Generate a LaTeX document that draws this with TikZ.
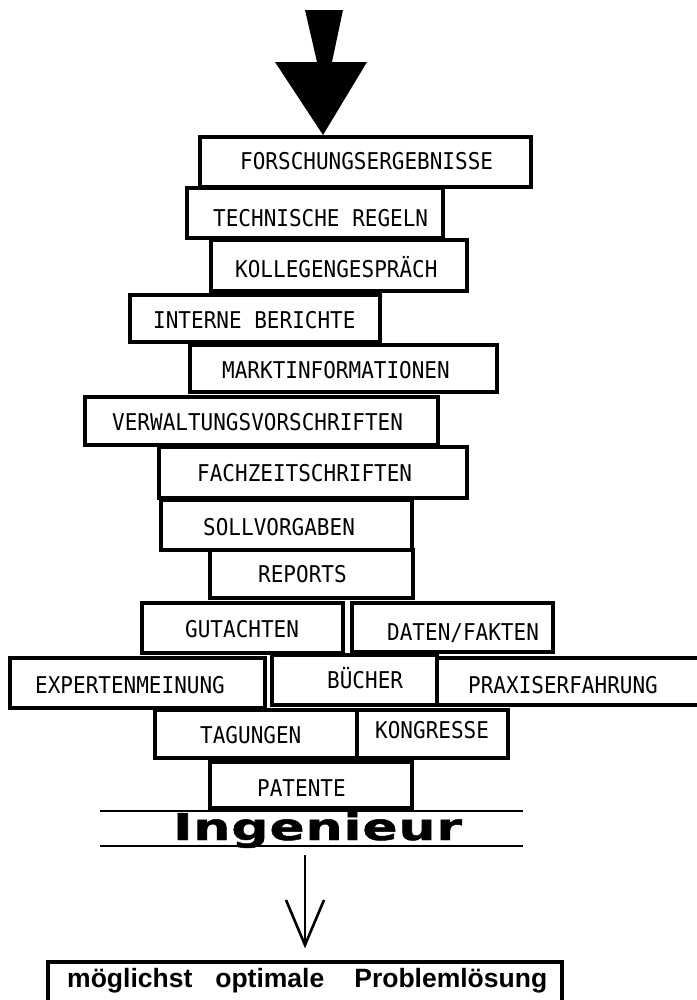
\documentclass[tikz,border=0pt]{standalone}
\usepackage{fontspec}
\newfontfamily\boxfont{DejaVu Sans Mono}
\newfontfamily\ingfont[LetterSpace=2,BoldFeatures={FakeBold=1.2}]{DejaVu Sans}
\newfontfamily\botfont{Liberation Sans}
\begin{document}
\begin{tikzpicture}[x=1bp,y=-1bp,
  brick/.style={draw=black,line width=3.2bp},
  lbl/.style={anchor=base west,inner sep=0pt,font=\boxfont\fontsize{21bp}{25bp}\selectfont},
  rule/.style={line width=2.8bp}]
\useasboundingbox (0,0) rectangle (697,1000);
\fill[white] (0,0) rectangle (697,1000);
\begin{scope}
\clip (0,0) rectangle (697,1000);
% top arrow
\fill[black] (305,10) -- (343,10) -- (332,62) -- (367,62) -- (323,135) -- (275,62) -- (317,62) -- cycle;
% bricks
\draw[brick] (200,137) rectangle (531,187);
\node[lbl] (t1) at (240,169) {\scalebox{1}[1.1]{FORSCHUNGSERGEBNISSE}};
\draw[brick] (187,188) rectangle (443,238);
\node[lbl] (t2) at (213,226) {\scalebox{1}[1.1]{TECHNISCHE REGELN}};
\draw[brick] (211,240) rectangle (467,291);
\node[lbl] (t3) at (235,277) {\scalebox{1}[1.1]{KOLLEGENGESPRÄCH}};
\draw[brick] (130,295) rectangle (380,342);
\node[lbl] (t4) at (153,328) {\scalebox{1}[1.1]{INTERNE BERICHTE}};
\draw[brick] (190,345) rectangle (497,392);
\node[lbl] (t5) at (222,378) {\scalebox{1}[1.1]{MARKTINFORMATIONEN}};
\draw[brick] (85,397) rectangle (438,445);
\node[lbl] (t6) at (112,430) {\scalebox{1}[1.1]{VERWALTUNGSVORSCHRIFTEN}};
\draw[brick] (159,447) rectangle (467,498);
\node[lbl] (t7) at (197,481) {\scalebox{1}[1.1]{FACHZEITSCHRIFTEN}};
\draw[brick] (161,500) rectangle (412,550);
\node[lbl] (t8) at (203,535) {\scalebox{1}[1.1]{SOLLVORGABEN}};
\draw[brick] (210,550) rectangle (413,598);
\node[lbl] (t9) at (258,582) {\scalebox{1}[1.1]{REPORTS}};
\draw[brick] (142,603) rectangle (343,653);
\node[lbl] (t10) at (185,637) {\scalebox{1}[1.1]{GUTACHTEN}};
\draw[brick] (352,603) rectangle (553,652);
\node[lbl] (t11) at (387,640) {\scalebox{1}[1.1]{DATEN/FAKTEN}};
\draw[brick] (10,658) rectangle (265,708);
\node[lbl] (t12) at (35,693) {\scalebox{1}[1.1]{EXPERTENMEINUNG}};
\draw[brick] (272,655) rectangle (437,705);
\node[lbl] (t13) at (327,688) {\scalebox{1}[1.1]{BÜCHER}};
\draw[brick] (437,658) rectangle (712,705);
\node[lbl] (t14) at (468,693) {\scalebox{1}[1.1]{PRAXISERFAHRUNG}};
\draw[brick] (155,710) rectangle (357,758);
\node[lbl] (t15) at (200,743) {\scalebox{1}[1.1]{TAGUNGEN}};
\draw[brick] (357,710) rectangle (508,758);
\node[lbl] (t16) at (375,738) {\scalebox{1}[1.1]{KONGRESSE}};
\draw[brick] (210,762) rectangle (412,808);
\node[lbl] (t17) at (257,796) {\scalebox{1}[1.1]{PATENTE}};
% Ingenieur
\draw[rule] (100,811) -- (523,811);
\draw[rule] (100,846) -- (523,846);
\node[anchor=base west,inner sep=0pt] (ing) at (173,840)
  {\scalebox{1.4}[1]{\ingfont\bfseries\fontsize{37bp}{40bp}\selectfont Ingenieur}};
% arrow down
\coordinate (a1) at (305,855);
\coordinate (a2) at (305,945);
\draw[line width=2.2bp] (a1) -- (a2);
\draw[line width=2.6bp,line join=miter] (286,900) -- (a2) -- (324,900);
% result box
\draw[brick] (48,1012) -- (48,962) -- (562,962) -- (562,1012);
\node[anchor=base west,inner sep=0pt,font=\botfont\bfseries\fontsize{26.5bp}{30bp}\selectfont] (bot) at (67,987)
  {möglichst\hspace{23bp}optimale\hspace{30bp}Problemlösung};
\end{scope}
\end{tikzpicture}
\end{document}
